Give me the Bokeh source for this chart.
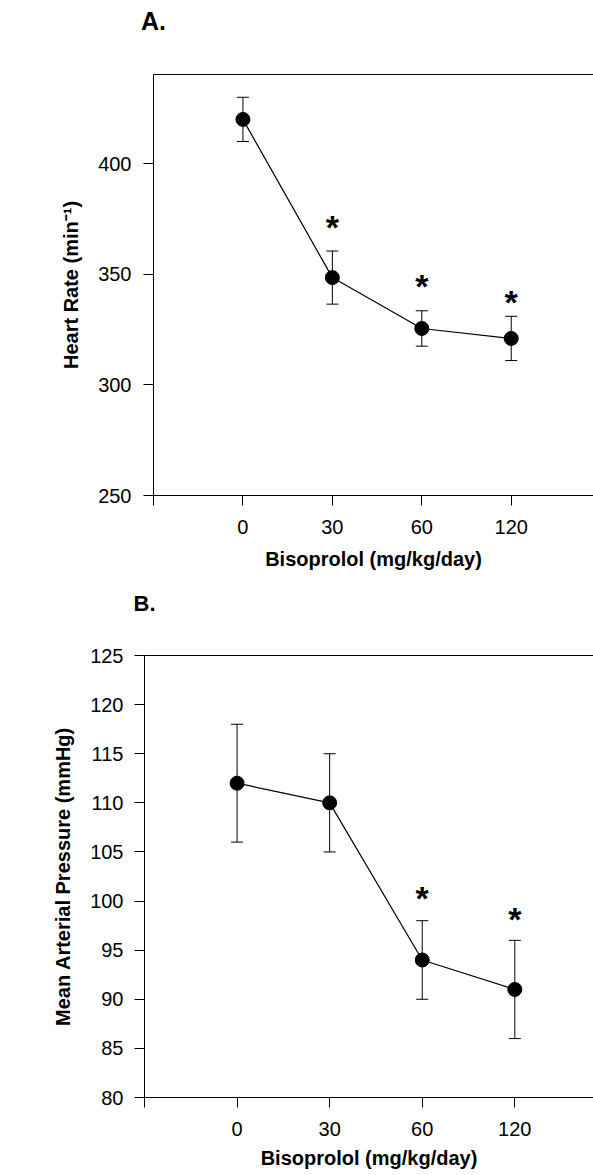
from bokeh.plotting import figure
from bokeh.models import Range1d, FixedTicker, LinearAxis, Whisker, ColumnDataSource, TeeHead
from bokeh.embed import file_html
from bokeh.resources import INLINE
from bokeh.core.properties import value

# ---- data ----
doses = ["0", "30", "60", "120"]

hr_mean = [420, 348.5, 325.5, 321]
hr_sem = [10, 12, 8, 10]
hr_sig = [False, True, True, True]
hr_star_y = [0, 373.5, 347, 339.5]
hr_ticks = [250, 300, 350, 400]

map_mean = [112, 110, 94, 91]
map_sem = [6, 5, 4, 5]
map_sig = [False, False, True, True]
map_star_y = [0, 0, 100.8, 98.7]
map_ticks = [80, 85, 90, 95, 100, 105, 110, 115, 120, 125]

FONT = "Liberation Sans"


def panel(letter, ylabel, mean, sem, sig, star_y, yticks, y_end, x_end,
          height, ml, mt, mb, title_standoff, title_size,
          x_lab_standoff, x_axl_standoff, y_lab_standoff, y_axl_standoff):
    pos = list(range(len(doses)))
    p = figure(width=593, height=height,
               x_range=Range1d(-1, x_end), y_range=Range1d(yticks[0], y_end),
               output_backend="svg", toolbar_location=None,
               min_border_left=ml, min_border_right=0,
               min_border_top=mt, min_border_bottom=mb)
    p.outline_line_color = None
    p.grid.visible = False
    p.background_fill_color = "white"
    p.border_fill_color = "white"
    p.title.visible = False

    xa = p.xaxis[0]
    xa.ticker = FixedTicker(ticks=[-1] + pos)
    overrides = {-1: ""}
    for i, d in zip(pos, doses):
        overrides[i] = d
    xa.major_label_overrides = overrides
    xa.axis_label = "Bisoprolol (mg/kg/day)"
    ya = p.yaxis[0]
    ya.ticker = FixedTicker(ticks=yticks)
    ya.axis_label = ylabel

    for ax in (xa, ya):
        ax.axis_line_color = "black"
        ax.axis_line_width = 1
        ax.major_tick_line_color = "black"
        ax.major_tick_out = 10
        ax.major_tick_in = 0
        ax.minor_tick_line_color = None
        ax.major_label_text_font = FONT
        ax.major_label_text_font_size = "20px"
        ax.major_label_text_color = "black"
        ax.axis_label_text_font = FONT
        ax.axis_label_text_font_style = "bold"
        ax.axis_label_text_font_size = "20px"
        ax.axis_label_text_color = "black"
    xa.major_label_standoff = x_lab_standoff
    xa.axis_label_standoff = x_axl_standoff
    ya.major_label_standoff = y_lab_standoff
    ya.axis_label_standoff = y_axl_standoff

    # top border of the frame, carrying the panel letter
    top = LinearAxis(ticker=FixedTicker(ticks=[]), major_label_text_font_size="0px",
                     major_tick_line_color=None, minor_tick_line_color=None,
                     major_tick_out=0, major_tick_in=0, major_label_standoff=0,
                     axis_line_color="black", axis_line_width=1,
                     axis_label=letter, axis_label_text_font=FONT,
                     axis_label_text_font_style="bold", axis_label_text_font_size=title_size,
                     axis_label_text_color="black", axis_label_standoff=title_standoff,
                     axis_label_text_align="left")
    top.axis_label_align = "start"
    p.add_layout(top, "above")

    src = ColumnDataSource(dict(base=pos,
                                upper=[m + s for m, s in zip(mean, sem)],
                                lower=[m - s for m, s in zip(mean, sem)]))
    w = Whisker(base="base", upper="upper", lower="lower", source=src,
                dimension="height", line_color="black", line_width=1,
                upper_head=TeeHead(size=12, line_color="black", line_width=1),
                lower_head=TeeHead(size=12, line_color="black", line_width=1))
    p.add_layout(w)

    p.line(pos, mean, line_color="black", line_width=1.2)
    p.scatter(pos, mean, size=14, fill_color="black", line_color="black")

    sx = [i for i, s in zip(pos, sig) if s]
    sy = [y for y, s in zip(star_y, sig) if s]
    p.text(x=sx, y=sy, text=["*"] * len(sx), text_font=value(FONT),
           text_font_style="bold", text_font_size="34px",
           text_align="center", text_baseline="middle", y_offset=5,
           text_color="black")
    return p


p1 = panel("A.", "Heart Rate (min\u207b\u00b9)", hr_mean, hr_sem, hr_sig, hr_star_y,
           hr_ticks, 440.3, 3.92, 585, 153, 74, 90, 40, "25px", 14, 11, 12, 13)
p2 = panel("B.", "Mean Arterial Pressure (mmHg)", map_mean, map_sem, map_sig, map_star_y,
           map_ticks, 125, 3.85, 590, 144, 70, 78, 40, "22px", 14, 8, 11, 13)

open("out.html", "w").write(file_html([p1, p2], INLINE))
